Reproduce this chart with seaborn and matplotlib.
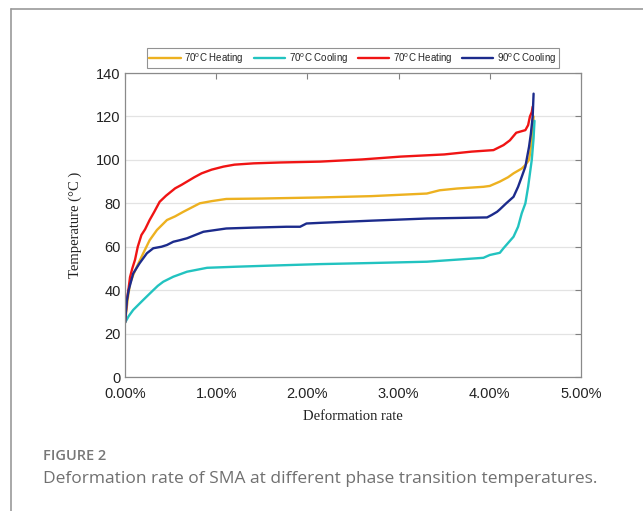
import matplotlib
matplotlib.use("Agg")
import matplotlib.pyplot as plt
from matplotlib.lines import Line2D
import seaborn as sns
import pandas as pd

# Deformation rate (%) and temperature (°C) for each transition curve
heat70a_x = [0, 0.02, 0.04, 0.055, 0.08, 0.11, 0.14, 0.18, 0.22, 0.27, 0.32, 0.38, 0.45, 0.55,
             0.62, 0.68, 0.76, 0.84, 0.95, 1.08, 1.2, 1.41, 1.7, 2.14, 2.6, 3.02, 3.5, 3.8,
             4.04, 4.15, 4.22, 4.29, 4.39, 4.42, 4.44, 4.46, 4.47]
heat70a_y = [25, 35.5, 41, 46, 50, 54, 60, 65.4, 68, 72.3, 76, 80.7, 83.5, 86.9,
             88.5, 90, 92, 93.8, 95.5, 96.9, 97.8, 98.4, 98.8, 99.2, 100.2, 101.5, 102.5, 103.8,
             104.5, 106.8, 109, 112.5, 113.7, 116, 120, 122, 124.5]

heat70b_x = [0, 0.03, 0.055, 0.09, 0.13, 0.2, 0.27, 0.35, 0.46, 0.55, 0.64, 0.82, 0.95, 1.11,
             1.5, 2.14, 2.7, 3.31, 3.45, 3.64, 3.93, 4.0, 4.11, 4.2, 4.26, 4.35, 4.39, 4.43,
             4.46, 4.48]
heat70b_y = [25, 36, 43, 47, 50.8, 57, 63, 67.7, 72.3, 74, 76.1, 80, 81, 82,
             82.2, 82.7, 83.3, 84.5, 86, 86.8, 87.6, 88, 90, 92, 93.8, 96, 97.6, 100,
             108, 120]

cool70_x = [0, 0.04, 0.09, 0.2, 0.31, 0.36, 0.42, 0.53, 0.68, 0.9, 1.22, 1.59, 2.14, 2.7,
            3.31, 3.93, 4.0, 4.11, 4.15, 4.26, 4.31, 4.35, 4.39, 4.42, 4.44, 4.46, 4.48, 4.49]
cool70_y = [25, 28, 30.9, 35.5, 40, 42, 43.9, 46.2, 48.5, 50.3, 50.8, 51.3, 52, 52.5,
            53.1, 54.9, 56.2, 57.2, 59.3, 64.6, 69.2, 75.4, 80, 87.6, 93.8, 100, 110, 118]

cool90_x = [0, 0.02, 0.04, 0.09, 0.16, 0.24, 0.31, 0.4, 0.46, 0.53, 0.6, 0.68, 0.86, 1.11,
            1.4, 1.77, 1.92, 1.99, 2.14, 2.7, 3.31, 3.97, 4.02, 4.08, 4.11, 4.18, 4.26, 4.31,
            4.35, 4.39, 4.41, 4.43, 4.45, 4.47, 4.48]
cool90_y = [25, 35, 40, 47.7, 52.4, 57, 59.3, 60, 60.8, 62.3, 63, 63.9, 66.9, 68.4,
            68.8, 69.2, 69.2, 70.7, 71, 72, 73, 73.5, 74.6, 76.1, 77.2, 80, 83, 87.6,
            92.2, 96.9, 101.5, 106, 112, 120, 130.5]

series_labels = ["70$^{\\rm o}$C Heating", "70$^{\\rm o}$C Cooling",
                 "70$^{\\rm o}$C Heating", "90$^{\\rm o}$C Cooling"]
series_colors = ["#EDB120", "#22C3C0", "#F01414", "#1C2B8C"]
x_ticks = [0, 1, 2, 3, 4, 5]
x_tick_labels = ["0.00%", "1.00%", "2.00%", "3.00%", "4.00%", "5.00%"]
y_ticks = [0, 20, 40, 60, 80, 100, 120, 140]

sns.set_theme(style="white")
plt.rcParams["font.family"] = ["Liberation Sans", "DejaVu Sans"]
plt.rcParams["mathtext.fontset"] = "custom"
plt.rcParams["mathtext.rm"] = "Liberation Sans"

fig = plt.figure(figsize=(6.43, 5.11), dpi=100)
ax = fig.add_axes([0.1944, 0.2622, 0.7092, 0.5949])

curves = [(heat70b_x, heat70b_y), (cool70_x, cool70_y),
          (heat70a_x, heat70a_y), (cool90_x, cool90_y)]
for (xs, ys), lab, col in zip(curves, series_labels, series_colors):
    df = pd.DataFrame({"x": xs, "y": ys})
    sns.lineplot(data=df, x="x", y="y", ax=ax, color=col, lw=1.7,
                 sort=False, estimator=None, legend=False)

ax.set_xlim(0, 5)
ax.set_ylim(0, 140)
ax.set_xticks(x_ticks)
ax.set_xticklabels(x_tick_labels)
ax.set_yticks(y_ticks)
ax.yaxis.grid(True, color="#e3e3e3", lw=0.9)
ax.set_axisbelow(True)
ax.tick_params(direction="in", length=4, width=0.8, color="#808080",
               labelsize=10.5, labelcolor="#222222", top=True, right=True,
               pad=3)
ax.tick_params(axis="x", pad=7.5)
for sp in ax.spines.values():
    sp.set_color("#8a8a8a")
    sp.set_linewidth(0.9)

ax.set_xlabel("Deformation rate", family=["Liberation Serif"], fontsize=10.5,
              color="#222222", labelpad=6.5)
ax.set_ylabel("Temperature (°C )", family=["Liberation Serif"], fontsize=10.5,
              color="#222222", labelpad=10)

handles = [Line2D([0], [0], color=c, lw=1.7) for c in series_colors]
leg = ax.legend(handles, series_labels, ncol=4, loc="lower center",
                bbox_to_anchor=(0.5, 1.015), fontsize=7, frameon=True,
                fancybox=False, edgecolor="#777777", handlelength=3.2,
                handletextpad=0.4, columnspacing=1.0, borderpad=0.3,
                borderaxespad=0)
leg.get_frame().set_linewidth(0.8)

# Page frame lines and caption
fig.add_artist(Line2D([11/643, 11/643], [0, 1 - 9/511], color="#999999", lw=1.2))
fig.add_artist(Line2D([11/643, 1], [1 - 9/511, 1 - 9/511], color="#999999", lw=1.2))
fig.text(43/643, 1 - 456/511, "FIGURE 2", family=["Open Sans"], fontsize=10.5,
         color="#777777", va="center", ha="left", weight="semibold")
fig.text(43/643, 1 - 479/511,
         "Deformation rate of SMA at different phase transition temperatures.",
         family=["Open Sans"], fontsize=12.5, color="#707070",
         va="center", ha="left")

fig.savefig("out.png", dpi=100)
